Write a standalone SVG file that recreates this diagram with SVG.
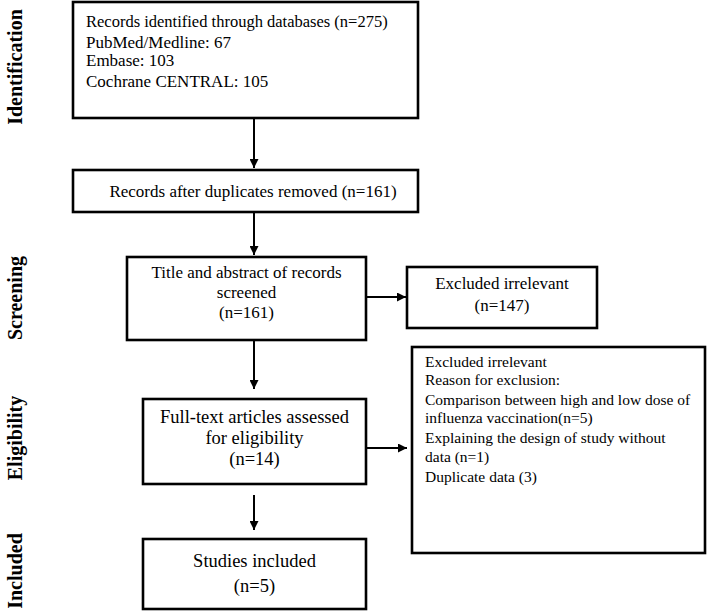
<svg xmlns="http://www.w3.org/2000/svg" width="707" height="611" viewBox="0 0 707 611">
<style>
.box{fill:#fff;stroke:#000;stroke-width:2.6}
.t{font-family:"Liberation Serif","Times New Roman",serif;fill:#000}
.s17{font-size:17px}
.s185{font-size:18.5px}
.s155{font-size:15.5px}
.mid{text-anchor:middle}
.side{font-family:"Liberation Serif","Times New Roman",serif;font-size:20px;font-weight:bold;text-anchor:middle;fill:#000}
.conn{stroke:#000;stroke-width:2;fill:none;marker-end:url(#ah)}
</style>
<defs>
<marker id="ah" viewBox="0 0 10 10" refX="10" refY="5" markerWidth="9" markerHeight="9" markerUnits="userSpaceOnUse" orient="auto">
<path d="M0,0 L10,5 L0,10 z" fill="#000"/>
</marker>
</defs>
<rect width="707" height="611" fill="#fff"/>
<g id="labels">
<text class="side" transform="translate(22,67) rotate(-90)">Identification</text>
<text class="side" transform="translate(22,298) rotate(-90)">Screening</text>
<text class="side" transform="translate(22,438) rotate(-90)">Eligibility</text>
<text class="side" transform="translate(22,571) rotate(-90)">Included</text>
</g>
<g id="n1">
<rect class="box" x="73" y="2" width="345" height="116"/>
<text class="t" x="86" y="27" font-size="16.5">Records identified through databases (n=275)</text>
<text class="t s17" x="86" y="48">PubMed/Medline: 67</text>
<text class="t s17" x="86" y="66">Embase: 103</text>
<text class="t s17" x="86" y="87">Cochrane CENTRAL: 105</text>
</g>
<g id="n2">
<rect class="box" x="73" y="170" width="345" height="42"/>
<text class="t s17 mid" x="253" y="197">Records after duplicates removed (n=161)</text>
</g>
<g id="n3">
<rect class="box" x="127" y="257" width="239" height="83"/>
<text class="t s17 mid" x="246.5" y="278">Title and abstract of records</text>
<text class="t s17 mid" x="246.5" y="298">screened</text>
<text class="t s17 mid" x="246.5" y="318">(n=161)</text>
</g>
<g id="n4">
<rect class="box" x="407" y="267" width="190" height="61"/>
<text class="t s17 mid" x="502" y="289">Excluded irrelevant</text>
<text class="t s17 mid" x="502" y="311">(n=147)</text>
</g>
<g id="n5">
<rect class="box" x="143" y="399" width="223" height="85"/>
<text class="t s185 mid" x="254.5" y="423">Full-text articles assessed</text>
<text class="t s185 mid" x="254.5" y="444">for eligibility</text>
<text class="t s185 mid" x="254.5" y="465">(n=14)</text>
</g>
<g id="n6">
<rect class="box" x="412" y="347" width="293" height="206"/>
<text class="t s155" x="425" y="367">Excluded irrelevant</text>
<text class="t s155" x="425" y="385">Reason for exclusion:</text>
<text class="t s155" x="425" y="405">Comparison between high and low dose of</text>
<text class="t s155" x="425" y="423">influenza vaccination(n=5)</text>
<text class="t s155" x="425" y="443">Explaining the design of study without</text>
<text class="t s155" x="425" y="462">data (n=1)</text>
<text class="t s155" x="425" y="482">Duplicate data (3)</text>
</g>
<g id="n7">
<rect class="box" x="143" y="539" width="223" height="70"/>
<text class="t s185 mid" x="254.5" y="567">Studies included</text>
<text class="t s185 mid" x="254.5" y="592">(n=5)</text>
</g>
<g id="connectors">
<line class="conn" x1="254" y1="119" x2="254" y2="168"/>
<line class="conn" x1="254" y1="213" x2="254" y2="255"/>
<line class="conn" x1="367" y1="297" x2="406" y2="297"/>
<line class="conn" x1="254" y1="341" x2="254" y2="389"/>
<line class="conn" x1="367" y1="448" x2="407" y2="448"/>
<line class="conn" x1="254" y1="495" x2="254" y2="530"/>
</g>
</svg>
